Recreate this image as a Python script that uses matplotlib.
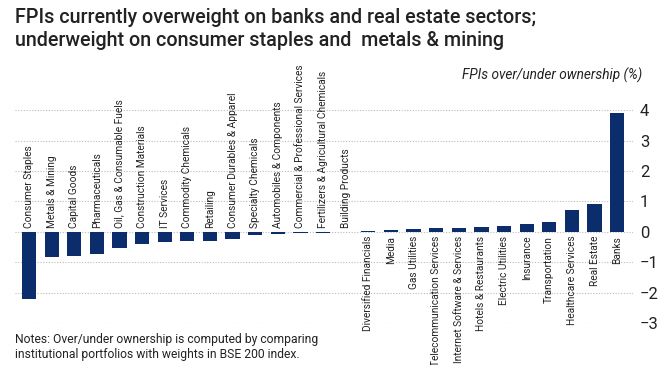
import numpy as np
import matplotlib.pyplot as plt

plt.rcParams['font.family'] = ['Roboto', 'DejaVu Sans']

sectors = ['Consumer Staples', 'Metals & Mining', 'Capital Goods', 'Pharmaceuticals',
           'Oil, Gas & Consumable Fuels', 'Construction Materials', 'IT Services',
           'Commodity Chemicals', 'Retailing', 'Consumer Durables & Apparel',
           'Specialty Chemicals', 'Automobiles & Components',
           'Commercial & Professional Services', 'Fertilizers & Agricultural Chemicals',
           'Building Products', 'Diversified Financials', 'Media', 'Gas Utilities',
           'Telecommunication Services', 'Internet Software & Services',
           'Hotels & Restaurants', 'Electric Utilities', 'Insurance', 'Transportation',
           'Healthcare Services', 'Real Estate', 'Banks']
values = [-2.21, -0.84, -0.79, -0.73, -0.55, -0.40, -0.35, -0.32, -0.29, -0.24,
          -0.10, -0.08, -0.05, -0.04, -0.02, 0.01, 0.05, 0.09, 0.12, 0.14,
          0.15, 0.20, 0.25, 0.33, 0.72, 0.92, 3.90]
yticks = [-3, -2, -1, 0, 1, 2, 3, 4]

bar_color = '#0c2d6b'

fig = plt.figure(figsize=(6.6, 3.65), dpi=100)
ax = fig.add_axes([15 / 660, 1 - 323 / 365, (633 - 15) / 660, (323 - 101) / 365])

x = np.arange(len(sectors))
ax.bar(x, values, width=0.63, color=bar_color, zorder=3)

for xi, v, name in zip(x, values, sectors):
    if v < 0:
        ax.text(xi, 0.13, name, rotation=90, ha='center', va='bottom',
                fontsize=7.3, color='#222222')
    else:
        ax.text(xi, -0.13, name, rotation=90, ha='center', va='top',
                fontsize=7.3, color='#222222')

ax.set_xlim(-0.62, 26.7)
ax.set_ylim(-3, 4.3)
ax.set_yticks(yticks)
ax.set_xticks([])
ax.yaxis.tick_right()
ax.tick_params(axis='y', length=0, labelsize=12, pad=5, colors='#222222')
ax.grid(axis='y', linestyle=(0, (1, 1.5)), color='#bbbbbb', linewidth=0.8, zorder=0)
for s in ax.spines.values():
    s.set_visible(False)

fig.text(15 / 660, 1 - 8 / 365,
         'FPIs currently overweight on banks and real estate sectors;\n'
         'underweight on consumer staples and  metals & mining',
         ha='left', va='top', fontsize=14.2, fontweight='medium', color='#222222',
         linespacing=1.3)
fig.text(642 / 660, 1 - 75 / 365, 'FPIs over/under ownership (%)', ha='right',
         va='center', fontsize=9.8, style='italic', color='#222222')
fig.text(15 / 660, 1 - 333 / 365,
         'Notes: Over/under ownership is computed by comparing\n'
         'institutional portfolios with weights in BSE 200 index.',
         ha='left', va='top', fontsize=8.7, color='#222222', linespacing=1.2)

fig.savefig('out.png', dpi=100)
